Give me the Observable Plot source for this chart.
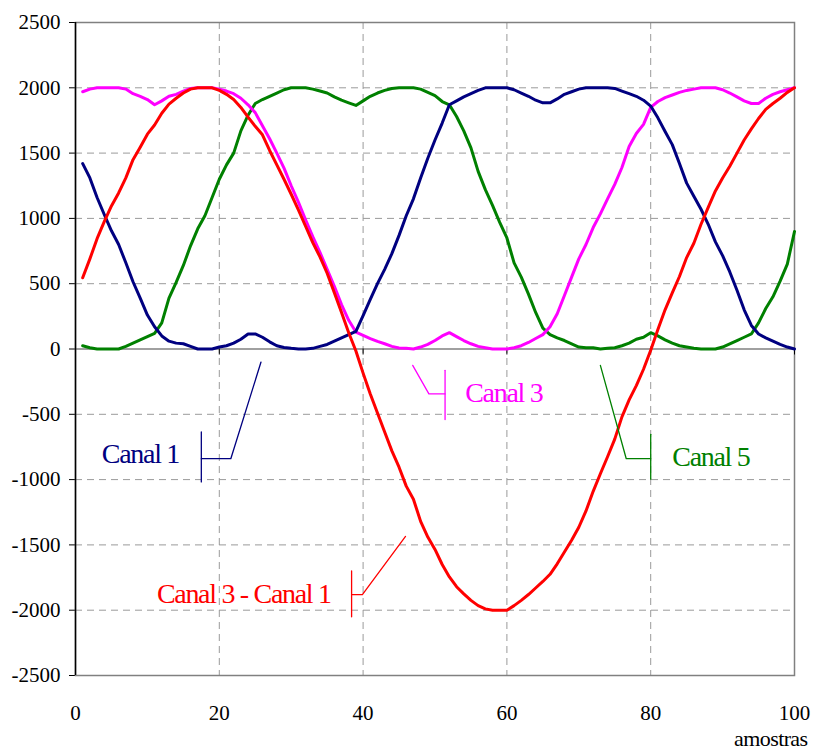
<!DOCTYPE html>
<html>
<head>
<meta charset="utf-8">
<script src="https://cdn.jsdelivr.net/npm/d3@7"></script>
<script src="https://cdn.jsdelivr.net/npm/@observablehq/plot@0.6"></script>
<style>
  html, body { margin: 0; padding: 0; background: #fff; }
  #chart svg { display: block; }
  #chart svg, #chart svg text { font-family: "Liberation Serif", "Times New Roman", serif !important; }
</style>
</head>
<body>
<div id="chart"></div>
<script>
// Sample index (x axis: "amostras")
const amostras = d3.range(1, 101);

// Canal 1 (navy)
const canal1 = [
  1420, 1310, 1160, 1030, 905, 800, 660, 515, 390, 260,
  170, 100, 60, 45, 40, 20, 0, 0, 0, 15,
  25, 45, 75, 115, 115, 90, 55, 25, 12, 5,
  0, 0, 5, 20, 35, 60, 85, 110, 135, 255,
  380, 500, 610, 730, 870, 1020, 1150, 1310, 1460, 1600,
  1730, 1870, 1900, 1930, 1955, 1980, 2000, 2000, 2000, 2000,
  1985, 1960, 1935, 1905, 1885, 1885, 1915, 1950, 1970, 1990,
  2000, 2000, 2000, 2000, 1995, 1975, 1955, 1935, 1905, 1860,
  1770, 1665, 1565, 1420, 1270, 1170, 1070, 955, 820, 715,
  590, 450, 300, 180, 115, 85, 60, 35, 15, 0
];

// Canal 3 (magenta)
const canal3 = [
  1970, 1990, 2000, 2000, 2000, 2000, 1990, 1955, 1935, 1910,
  1870, 1900, 1935, 1950, 1975, 1995, 2000, 2000, 2000, 1990,
  1975, 1955, 1920, 1870, 1810, 1710, 1610, 1500, 1385, 1250,
  1125, 990, 860, 740, 610, 480, 340, 220, 130, 105,
  80, 58, 40, 20, 8, 5, 0, 15, 35, 65,
  100, 125, 95, 65, 40, 20, 10, 0, 0, 0,
  10, 25, 50, 80, 110, 170, 270, 410, 550, 690,
  800, 930, 1035, 1150, 1260, 1390, 1550, 1650, 1720, 1850,
  1895, 1925, 1945, 1965, 1980, 1990, 2000, 2000, 2000, 1985,
  1960, 1930, 1900, 1880, 1880, 1920, 1950, 1970, 1985, 2000
];

// Canal 5 (green)
const canal5 = [
  25, 10, 0, 0, 0, 0, 20, 45, 70, 95,
  120, 200, 390, 510, 640, 790, 920, 1020, 1160, 1300,
  1410, 1500, 1670, 1790, 1880, 1910, 1935, 1960, 1985, 2000,
  2000, 2000, 1990, 1975, 1960, 1930, 1905, 1885, 1865, 1900,
  1935, 1960, 1980, 1995, 2000, 2000, 2000, 1990, 1965, 1940,
  1895, 1870, 1780, 1670, 1540, 1360, 1220, 1100, 970, 850,
  660, 550, 420, 280, 160, 110, 85, 65, 40, 15,
  10, 10, 0, 5, 10, 25, 45, 75, 90, 125,
  100, 70, 45, 25, 15, 5, 0, 0, 0, 15,
  40, 65, 90, 115, 200, 310, 400, 520, 650, 900
];

// Canal 3 - Canal 1 (red)
const canal3menos1 = [
  545, 690, 845, 975, 1095, 1195, 1310, 1450, 1545, 1645,
  1715, 1805, 1875, 1920, 1960, 1990, 2000, 2000, 2000, 1980,
  1950, 1910, 1850, 1775, 1705, 1640, 1520, 1410, 1300, 1185,
  1065, 940, 815, 705, 580, 430, 280, 125, -15, -185,
  -345, -490, -635, -780, -905, -1050, -1150, -1320, -1440, -1535,
  -1650, -1745, -1820, -1875, -1925, -1965, -1990, -2000, -2000, -2000,
  -1965, -1925, -1880, -1830, -1780, -1725, -1645, -1555, -1465, -1365,
  -1240, -1090, -955, -825, -690, -520, -390, -280, -155, -10,
  150, 300, 430, 555, 700, 810, 955, 1085, 1210, 1310,
  1400, 1500, 1600, 1685, 1765, 1835, 1880, 1920, 1965, 2000
];

// Axis ticks and grid
const xTicks = [0, 20, 40, 60, 80, 100];
const yTicks = [-2500, -2000, -1500, -1000, -500, 0, 500, 1000, 1500, 2000, 2500];
const gridX = [20, 40, 60, 80];
const gridY = [-2000, -1500, -1000, -500, 500, 1000, 1500, 2000];

const nomes = ["Canal 1", "Canal 3", "Canal 5", "Canal 3 - Canal 1"];
const cores = ["#000080", "#FF00FF", "#008000", "#FF0000"];
const valores = [canal1, canal3, canal5, canal3menos1];

// Series label positions (data coordinates) and leader polylines
const rotulos = [
  {serie: 0, x: 14.4, y: -806, anchor: "end"},
  {serie: 1, x: 54.2, y: -337, anchor: "start"},
  {serie: 2, x: 83.0, y: -829, anchor: "start"},
  {serie: 3, x: 35.5, y: -1875, anchor: "end"}
];
const guias = [
  {serie: 0, pontos: [[17.5, -635], [17.5, -1018]]},
  {serie: 0, pontos: [[17.5, -840], [21.6, -840], [25.8, -100]]},
  {serie: 1, pontos: [[46.9, -125], [49.15, -344], [51.4, -344]]},
  {serie: 1, pontos: [[51.4, -163], [51.4, -540]]},
  {serie: 2, pontos: [[73.0, -125], [76.6, -840], [80.0, -840]]},
  {serie: 2, pontos: [[80.0, -653], [80.0, -997]]},
  {serie: 3, pontos: [[38.4, -1700], [38.4, -2050]]},
  {serie: 3, pontos: [[38.4, -1880], [39.9, -1880], [45.9, -1435]]}
];

const tabela = (k) => amostras.map((a, i) => ({amostra: a, valor: valores[k][i]}));
const ordem = [2, 1, 0, 3]; // drawing order: green, magenta, navy, red on top

const chart = Plot.plot({
  width: 813,
  height: 754,
  marginLeft: 75,
  marginRight: 19,
  marginTop: 22,
  marginBottom: 79,
  style: {
    fontFamily: "Liberation Serif, serif",
    fontSize: "21px",
    background: "#ffffff",
    color: "#000000"
  },
  x: {domain: [0, 100], ticks: xTicks, tickSize: 0, tickPadding: 30, tickFormat: d => String(d), label: null},
  y: {domain: [-2500, 2500], ticks: yTicks, tickSize: 6, tickPadding: 9, tickFormat: d => String(d), label: null},
  marks: [
    Plot.ruleX(gridX, {stroke: "#9a9a9a", strokeWidth: 1, strokeDasharray: "7,5"}),
    Plot.ruleY(gridY, {stroke: "#9a9a9a", strokeWidth: 1, strokeDasharray: "7,5"}),
    Plot.frame({stroke: "#808080", strokeWidth: 1.5}),
    Plot.ruleY([0], {stroke: "#808080", strokeWidth: 1.5}),
    Plot.ruleX(xTicks.filter(d => d > 0), {y1: 0, y2: -46, stroke: "#000", strokeWidth: 1}),
    Plot.ruleX([0], {stroke: "#000", strokeWidth: 1.5}),
    ...ordem.map(k => Plot.line(tabela(k), {
      x: "amostra", y: "valor", stroke: cores[k], strokeWidth: 3,
      strokeLinejoin: "round", strokeLinecap: "round"
    })),
    ...guias.map(g => Plot.line(g.pontos, {
      x: d => d[0], y: d => d[1], stroke: cores[g.serie], strokeWidth: 1.3
    })),
    ...rotulos.map(r => Plot.text([r], {
      x: "x", y: "y", text: d => nomes[d.serie], fill: cores[r.serie],
      textAnchor: r.anchor, fontSize: 28
    })),
    Plot.text(["amostras"], {
      text: d => d, frameAnchor: "bottom-right", dx: 13, dy: 70,
      textAnchor: "end", fontSize: 22
    })
  ]
});

document.getElementById("chart").appendChild(chart);

// condensed look of the series labels
chart.querySelectorAll("text").forEach(t => {
  if (t.textContent.startsWith("Canal")) t.style.letterSpacing = "-1.3px";
  if (t.textContent === "amostras") t.style.letterSpacing = "-0.6px";
});
</script>
</body>
</html>
